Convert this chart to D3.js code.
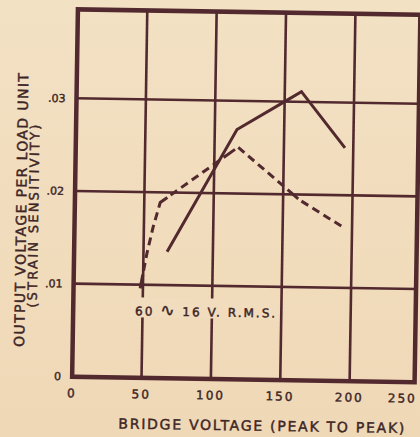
<!DOCTYPE html>
<html>
<head>
<meta charset="utf-8">
<script src="https://cdn.jsdelivr.net/npm/d3@7"></script>
<style>
  html, body { margin: 0; padding: 0; background: #f0dbbb; }
  svg { display: block; }
  text { font-family: "DejaVu Sans"; fill: #3e2626; stroke: #3e2626; stroke-width: 0.45px; }
</style>
</head>
<body>
<div id="chart"></div>
<script>
// values
var solidVoltage = [67, 116, 150, 162, 194];
var solidSens    = [0.0136, 0.0269, 0.0300, 0.0311, 0.0251];

var dashVoltage = [48, 52.5, 56.6, 61.5, 117, 162, 193];
var dashSens    = [0.0096, 0.0134, 0.0162, 0.0189, 0.0250, 0.0194, 0.0166];

var xTicks = [0, 50, 100, 150, 200, 250];
var yTicks = [0, 0.01, 0.02, 0.03];
var yTickLabels = ["0", ".01", ".02", ".03"];

var width = 420, height = 437;
var ink = "#52292e";

var x = d3.scaleLinear().domain([0, 250]).range([75, 421.9]);
var y = d3.scaleLinear().domain([0, 0.04]).range([379, 8.3]);

var frame = {left: 75, top: 12, right: 417.5, bottom: 379.5};

var svg = d3.select("#chart")
    .append("svg")
    .attr("width", width)
    .attr("height", height);

// paper
var grad = svg.append("defs").append("linearGradient")
    .attr("id", "paper").attr("x1", 0).attr("y1", 0).attr("x2", 0).attr("y2", 1);
grad.append("stop").attr("offset", "0%").attr("stop-color", "#f3e1c4");
grad.append("stop").attr("offset", "100%").attr("stop-color", "#efd8b6");
svg.append("rect").attr("width", width).attr("height", height).attr("fill", "url(#paper)");

// the scan is turned a little clockwise
var g = svg.append("g").attr("transform", "rotate(0.9, 245, 196)");

// grid lines
g.selectAll("line.vgrid")
    .data(xTicks.slice(1, 5))
    .enter()
    .append("line")
    .attr("x1", function(d) { return x(d); })
    .attr("x2", function(d) { return x(d); })
    .attr("y1", frame.top)
    .attr("y2", frame.bottom)
    .style("stroke", ink)
    .style("stroke-width", 2.6);

g.selectAll("line.hgrid")
    .data(yTicks.slice(1))
    .enter()
    .append("line")
    .attr("x1", frame.left)
    .attr("x2", frame.right)
    .attr("y1", function(d) { return y(d); })
    .attr("y2", function(d) { return y(d); })
    .style("stroke", ink)
    .style("stroke-width", 2.6);

// frame
g.append("rect")
    .attr("x", frame.left)
    .attr("y", frame.top)
    .attr("width", frame.right - frame.left)
    .attr("height", frame.bottom - frame.top)
    .style("fill", "none")
    .style("stroke", ink)
    .style("stroke-width", 4.5);

// note, knocks out the grid lines behind it
g.append("rect")
    .attr("x", 132).attr("y", 299)
    .attr("width", 148).attr("height", 20)
    .style("fill", "#f1dcbd");
var note = g.append("text")
    .attr("x", 137)
    .attr("y", 317)
    .attr("textLength", 140)
    .attr("lengthAdjust", "spacing")
    .style("font-size", "12px");
note.append("tspan").text("60 ");
note.append("tspan").style("font-size", "17px").text("\u223F");
note.append("tspan").text(" 16 V. R.M.S.");

var line = d3.line()
    .x(function(d) { return x(d[0]); })
    .y(function(d) { return y(d[1]); });

g.append("path")
    .attr("d", line(d3.zip(solidVoltage, solidSens)))
    .style("fill", "none")
    .style("stroke", ink)
    .style("stroke-width", 3)
    .style("stroke-linejoin", "miter");

g.append("path")
    .attr("d", line(d3.zip(dashVoltage, dashSens)))
    .style("fill", "none")
    .style("stroke", ink)
    .style("stroke-width", 3)
    .style("stroke-dasharray", "14,4,8,5,8,5,8,5,8,5,8,5");

// tick labels
g.selectAll("text.xtick")
    .data(xTicks)
    .enter()
    .append("text")
    .attr("x", function(d) { return Math.min(x(d), frame.right - 12); })
    .attr("y", 400)
    .attr("text-anchor", "middle")
    .style("font-size", "12px")
    .style("letter-spacing", "2px")
    .text(function(d) { return d; });

g.selectAll("text.ytick")
    .data(yTicks)
    .enter()
    .append("text")
    .attr("x", 64)
    .attr("y", function(d) { return y(d) + 4; })
    .attr("text-anchor", "end")
    .style("font-size", "11px")
    .text(function(d, i) { return yTickLabels[i]; });

// axis titles
g.append("text")
    .attr("x", 265)
    .attr("y", 430.5)
    .attr("text-anchor", "middle")
    .attr("textLength", 286)
    .attr("lengthAdjust", "spacing")
    .style("font-size", "14px")
    .text("BRIDGE VOLTAGE (PEAK TO PEAK)");

g.append("text")
    .attr("transform", "translate(26.5,213.5) rotate(-90)")
    .attr("text-anchor", "middle")
    .attr("textLength", 274)
    .attr("lengthAdjust", "spacing")
    .style("font-size", "14px")
    .text("OUTPUT VOLTAGE PER LOAD UNIT");

g.append("text")
    .attr("transform", "translate(38.5,219.5) rotate(-90)")
    .attr("text-anchor", "middle")
    .attr("textLength", 183)
    .attr("lengthAdjust", "spacing")
    .style("font-size", "13px")
    .text("(STRAIN SENSITIVITY)");
</script>
</body>
</html>
